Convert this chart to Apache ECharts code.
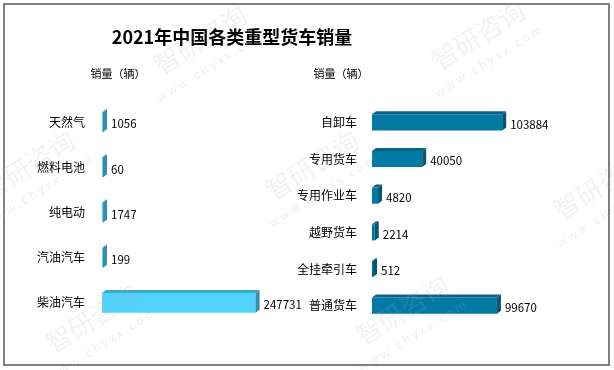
<!DOCTYPE html>
<html>
<head>
<meta charset="utf-8">
<script src="https://cdn.jsdelivr.net/npm/echarts@6/dist/echarts.min.js"></script>
<style>html,body{margin:0;padding:0;background:#fff}#c{width:614px;height:370px}</style>
</head>
<body>
<div id="c"></div>
<script>
// ---- data ----
const titleText = '2021年中国各类重型货车销量';
const unitLabel = '销量（辆）';
const leftCategories = ['天然气', '燃料电池', '纯电动', '汽油汽车', '柴油汽车'];
const leftValues = [1056, 60, 1747, 199, 247731];
const rightCategories = ['自卸车', '专用货车', '专用作业车', '越野货车', '全挂牵引车', '普通货车'];
const rightValues = [103884, 40050, 4820, 2214, 512, 99670];

const FONT = '"Noto Sans CJK SC", "Microsoft YaHei", sans-serif';
const DX = 4, DY = 3;

function makeRender(colors, ratio) {
  return function (params, api) {
    const cat = api.value(0), val = api.value(1);
    const s = api.coord([0, cat]);
    const e = api.coord([val, cat]);
    const h = api.size([0, 1])[1] * ratio;
    const x0 = s[0];
    const x1 = Math.max(e[0], x0 + 1);
    const yT = s[1] - h / 2, yB = s[1] + h / 2;
    return {
      type: 'group',
      children: [
        { type: 'rect', shape: { x: x0, y: yT, width: x1 - x0, height: h }, style: { fill: colors[0] } },
        { type: 'polygon', shape: { points: [[x0, yT], [x0 + DX, yT - DY], [x1 + DX, yT - DY], [x1, yT]] }, style: { fill: colors[1] } },
        { type: 'polygon', shape: { points: [[x1, yT], [x1 + DX, yT - DY], [x1 + DX, yB - DY], [x1, yB]] }, style: { fill: colors[2] } },
        { type: 'text', style: { text: String(val), x: x1 + DX + 4, y: s[1] + 2, fill: '#000', fontSize: 11.5, fontFamily: FONT, verticalAlign: 'middle', align: 'left' } }
      ]
    };
  };
}

const wmPos = [[200, 40], [478, 35], [312, 165], [600, 185], [28, 165], [92, 318], [402, 310]];
const wmRot = 32 * Math.PI / 180;
const watermarks = [];
wmPos.forEach(p => {
  watermarks.push({ type: 'text', x: p[0], y: p[1], rotation: wmRot, silent: true, z: 100,
    style: { text: '智研咨询', fontSize: 26, fontFamily: FONT, fill: 'rgba(160,175,195,0.16)', align: 'center', verticalAlign: 'middle' } });
  watermarks.push({ type: 'text', x: p[0] + 10, y: p[1] + 26, rotation: wmRot, silent: true, z: 100,
    style: { text: 'w w w . c h y x x . c o m', fontSize: 12, fontFamily: FONT, fill: 'rgba(160,175,195,0.2)', align: 'center', verticalAlign: 'middle' } });
});

const chart = echarts.init(document.getElementById('c'), null, { renderer: 'canvas' });
chart.setOption({
  backgroundColor: '#fff',
  animation: false,
  graphic: [
    { type: 'rect', shape: { x: 4, y: 4, width: 605, height: 361 }, style: { fill: 'none', stroke: '#808080', lineWidth: 2 }, silent: true },
    { type: 'text', x: 232, y: 37, style: { text: titleText, fontSize: 18, fontWeight: 'bold', fontFamily: FONT, fill: '#000', align: 'center', verticalAlign: 'middle' } },
    { type: 'text', x: 118, y: 74, style: { text: unitLabel, fontSize: 11, fontFamily: FONT, fill: '#000', align: 'center', verticalAlign: 'middle' } },
    { type: 'text', x: 341, y: 74, style: { text: unitLabel, fontSize: 11, fontFamily: FONT, fill: '#000', align: 'center', verticalAlign: 'middle' } }
  ].concat(watermarks),
  grid: [
    { left: 102, width: 186, top: 99.5, height: 226 },
    { left: 372, width: 188, top: 104, height: 220 }
  ],
  xAxis: [
    { gridIndex: 0, type: 'value', min: 0, max: 300000, show: false },
    { gridIndex: 1, type: 'value', min: 0, max: 150000, show: false }
  ],
  yAxis: [
    { gridIndex: 0, type: 'category', data: leftCategories, inverse: true,
      axisLine: { show: false }, axisTick: { show: false }, splitLine: { show: false },
      axisLabel: { margin: 17, fontSize: 12, color: '#000', fontFamily: FONT, padding: [6, 0, 0, 0] } },
    { gridIndex: 1, type: 'category', data: rightCategories, inverse: true,
      axisLine: { show: false }, axisTick: { show: false }, splitLine: { show: false },
      axisLabel: { margin: 15, fontSize: 12, color: '#000', fontFamily: FONT, padding: [7, 0, 0, 0] } }
  ],
  series: [
    { type: 'custom', xAxisIndex: 0, yAxisIndex: 0, encode: { x: 1, y: 0 },
      data: leftValues.map((v, i) => [i, v]),
      renderItem: makeRender(['#50D2FA', '#3FA6C8', '#388BAA'], 0.44) },
    { type: 'custom', xAxisIndex: 1, yAxisIndex: 1, encode: { x: 1, y: 0 },
      data: rightValues.map((v, i) => [i, v]),
      renderItem: makeRender(['#0479A4', '#0B6285', '#065675'], 0.44) }
  ]
});
</script>
</body>
</html>
